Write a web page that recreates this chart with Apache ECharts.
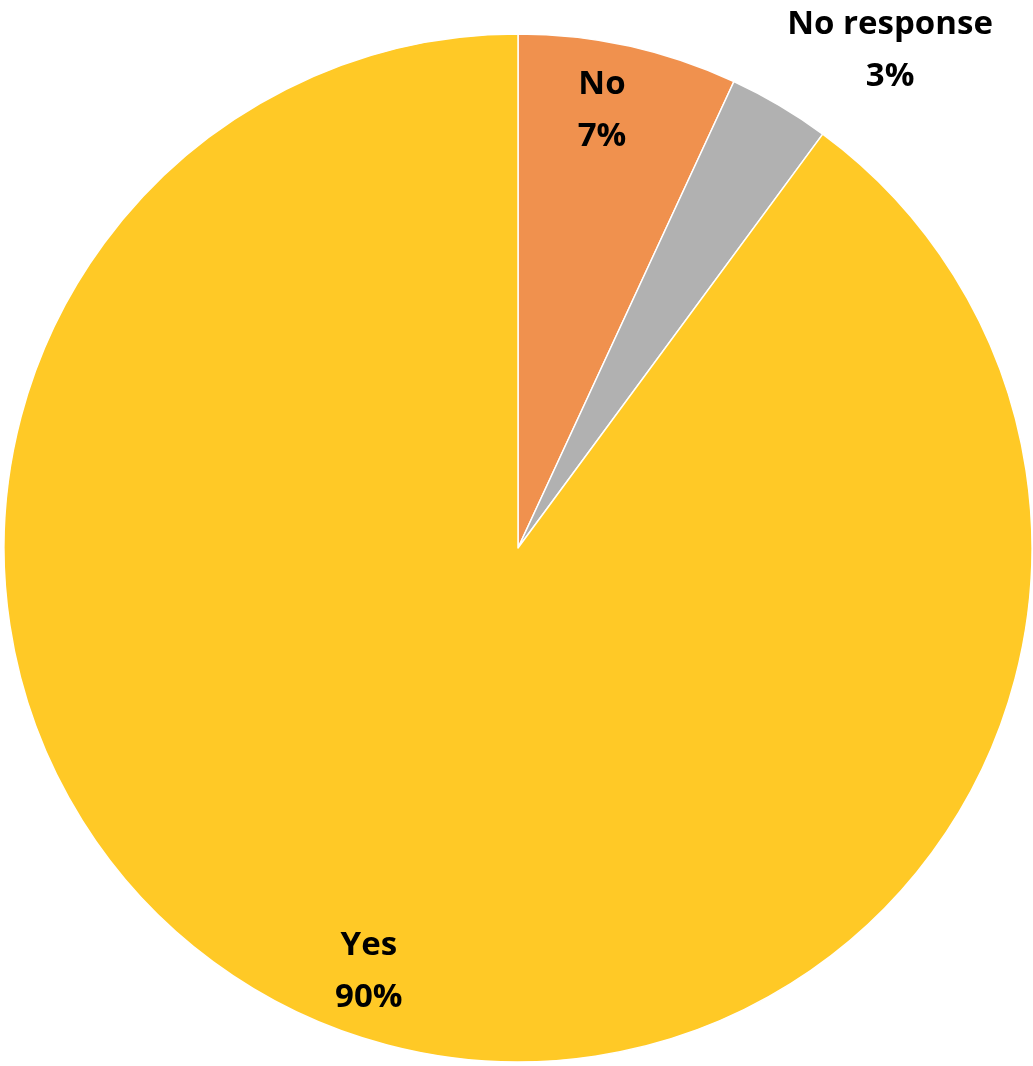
<!DOCTYPE html>
<html><head><meta charset="utf-8">
<script src="https://cdn.jsdelivr.net/npm/echarts@6/dist/echarts.min.js"></script>
<style>html,body{margin:0;padding:0;background:#fff}#c{width:1033px;height:1066px}</style>
</head><body><div id="c"></div>
<script>
const categories = ['No', 'No response', 'Yes'];
const values = [6.9, 3.2, 89.9];
const colors = ['#F0914E', '#B1B1B1', '#FFC926'];

const chart = echarts.init(document.getElementById('c'), null, {renderer: 'canvas'});
const center = [518, 548];
const R = 514;
const font = {fontFamily: 'Open Sans', fontWeight: 'bold', fontSize: 33, color: '#000', lineHeight: 52};

chart.setOption({
  animation: false,
  series: [
    {
      type: 'pie', center: center, radius: [0, R], startAngle: 90, clockwise: true,
      silent: true,
      itemStyle: {borderColor: '#fff', borderWidth: 1.5},
      label: {show: false}, labelLine: {show: false},
      data: categories.map((c, i) => ({name: c, value: values[i], itemStyle: {color: colors[i]}}))
    },
    {
      type: 'pie', center: center, radius: [R * 0.724, R], startAngle: 90, clockwise: true,
      silent: true,
      itemStyle: {color: 'transparent', borderWidth: 0},
      labelLine: {show: false},
      label: Object.assign({show: true, position: 'inside', formatter: p => p.name + '\n' + Math.round(p.percent) + '%'}, font),
      data: categories.map((c, i) => ({
        name: c, value: values[i],
        label: i === 1 ? {offset: [145, -113]} : (i === 0 ? {offset: [-12, -2]} : {offset: [-10, 0]})
      }))
    }
  ]
});
</script></body></html>
